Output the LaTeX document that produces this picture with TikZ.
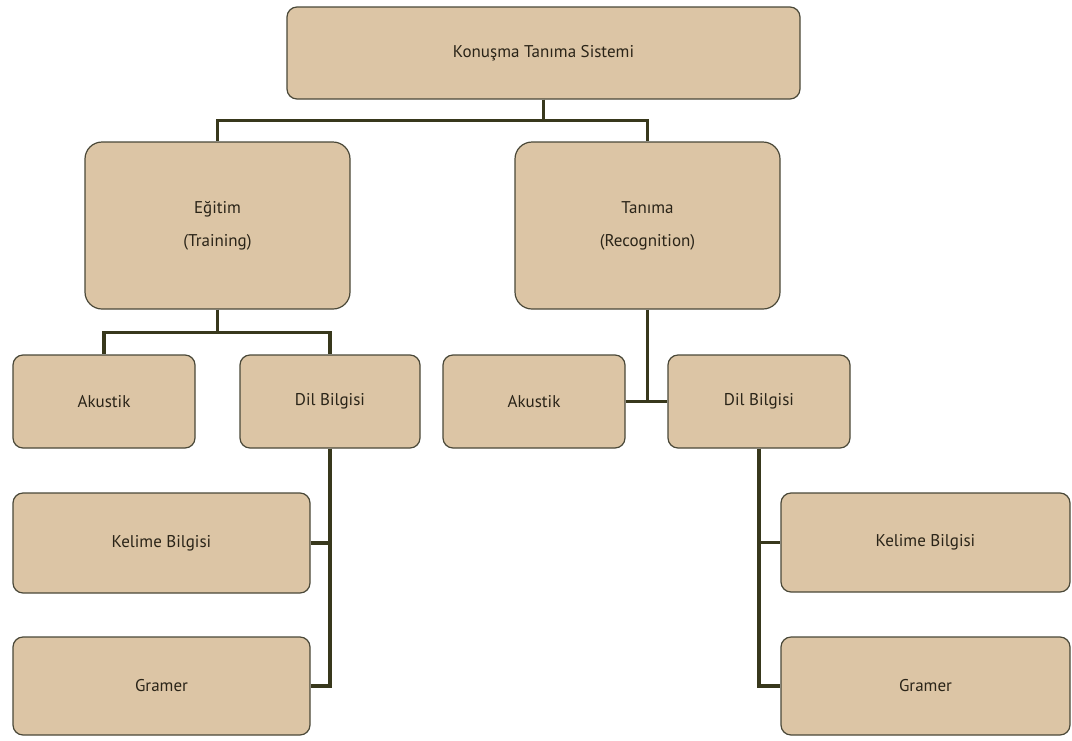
\documentclass[tikz,border=0pt]{standalone}
\usepackage{fontspec}
\setmainfont{PT Sans}
\usetikzlibrary{positioning}
\definecolor{boxfill}{HTML}{DCC5A5}
\definecolor{boxline}{HTML}{4A4838}
\definecolor{connline}{HTML}{38381C}
\definecolor{textcol}{HTML}{2A2418}

\begin{document}
\begin{tikzpicture}[x=1pt,y=-1pt,
	every node/.style={font=\fontsize{17}{33}\selectfont,text=textcol},
	box/.style={draw=boxline,fill=boxfill,line width=1.2pt,rounded corners=10pt,align=center,inner sep=0pt},
	bigbox/.style={box,rounded corners=17pt},
	conn/.style={draw=connline,line width=3.5pt}]
		\useasboundingbox (0,0) rectangle (1072,740);

		\node[box,minimum width=513pt,minimum height=92pt] (sys) at (543.5,53) {Konuşma Tanıma Sistemi};
		\node[bigbox,minimum width=265pt,minimum height=167pt] (egitim) at (217.5,225.5) {Eğitim\\(Training)};
		\node[bigbox,minimum width=265pt,minimum height=167pt] (tanima) at (647.5,225.5) {Tanıma\\(Recognition)};

		\node[box,minimum width=182pt,minimum height=93pt] (akus1) at (104,401.5) {Akustik};
		\node[box,minimum width=180pt,minimum height=93pt] (dil1) at (330,401.5) {Dil Bilgisi};
		\node[box,minimum width=182pt,minimum height=93pt] (akus2) at (534,401.5) {Akustik};
		\node[box,minimum width=182pt,minimum height=93pt] (dil2) at (759,401.5) {Dil Bilgisi};

		\node[box,minimum width=297pt,minimum height=100pt] (kel1) at (161.5,543) {Kelime Bilgisi};
		\node[box,minimum width=297pt,minimum height=98pt] (gram1) at (161.5,686) {Gramer};
		\node[box,minimum width=289pt,minimum height=99pt] (kel2) at (925.5,542.5) {Kelime Bilgisi};
		\node[box,minimum width=289pt,minimum height=98pt] (gram2) at (925.5,686) {Gramer};

		\draw[conn] (sys.south) -- ++(0,21) -| (egitim.north);
		\draw[conn] (sys.south) -- ++(0,21) -| (tanima.north);
		\draw[conn] (egitim.south) -- ++(0,23) -| (akus1.north);
		\draw[conn] (egitim.south) -- ++(0,23) -| (dil1.north);
		\draw[conn] (tanima.south) -- (tanima.south |- akus2.east);
		\draw[conn] (akus2.east) -- (dil2.west);
		\draw[conn] (dil1.south) |- (kel1.east);
		\draw[conn] (dil1.south) |- (gram1.east);
		\draw[conn] (dil2.south) |- (kel2.west);
		\draw[conn] (dil2.south) |- (gram2.west);
	\end{tikzpicture}
\end{document}
